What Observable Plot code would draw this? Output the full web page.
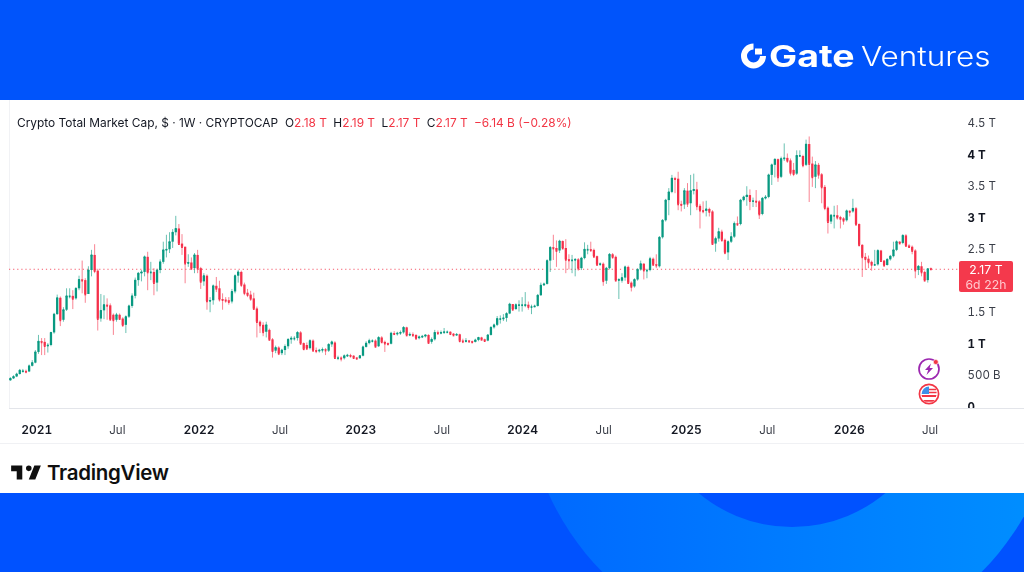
<!DOCTYPE html>
<html><head><meta charset="utf-8">
<script src="https://cdn.jsdelivr.net/npm/d3@7"></script>
<script src="https://cdn.jsdelivr.net/npm/@observablehq/plot@0.6"></script>
<style>
html,body{margin:0;padding:0;width:1024px;height:572px;overflow:hidden;background:#fff;font-family:Inter,"Noto Sans",sans-serif;color:#131722}
#top{position:absolute;left:0;top:0;width:1024px;height:100px;background:#0054fb}
#bottom{position:absolute;left:0;top:493px;width:1024px;height:79px}
#chart{position:absolute;left:0;top:100px;width:1024px;height:344px;border-bottom:1px solid #f0f1f4;box-sizing:border-box;filter:blur(.3px)}
.abs{position:absolute;white-space:nowrap}
#legend{left:17px;top:115px;font-size:11.9px;line-height:16px;filter:blur(.25px)}
#legend .r{color:#f23645}
#legend .f{margin-left:7px}
#legend .g{margin-left:3px}
#price{left:959px;top:261px;width:54px;height:31px;background:#f4394c;border-radius:2px;text-align:center;color:#fff;font-size:12.2px;line-height:15px;padding-top:1px;box-sizing:border-box;letter-spacing:.1px;filter:blur(.2px)}
#price .t{color:#ffc9cf}
</style></head><body>
<div id="top"></div>
<svg id="bottom" viewBox="0 493 1024 79">
<defs><linearGradient id="g" x1="0" x2="1"><stop offset="0" stop-color="#0068ff"/><stop offset="1" stop-color="#0090ff"/></linearGradient></defs>
<rect x="0" y="493" width="1024" height="79" fill="#0052ff"/>
<circle cx="792" cy="384" r="267" fill="url(#g)"/>
<circle cx="792" cy="381.5" r="145.5" fill="#0052ff"/>
</svg>
<svg class="abs" style="left:738px;top:40px" width="32" height="32" viewBox="0 0 32 32">
<path d="M15.5 3.5A12.5 12.5 0 1 0 28 16H22A6.5 6.5 0 1 1 15.5 9.5Z" fill="#fff"/><rect x="17" y="8.5" width="7" height="6" fill="#fff"/>
</svg>
<div class="abs" style="left:769px;top:35px;font-size:30px;line-height:42px;font-weight:700;color:#fff;transform:scaleX(1.25);transform-origin:left center">Gate</div>
<div class="abs" style="left:861px;top:38px;font-size:27px;line-height:38px;font-weight:300;color:#fff;transform:scaleX(1.165);transform-origin:left center">Ventures</div>
<div id="chart"></div>
<div class="abs" id="legend">Crypto Total Market Cap, $ · 1W · CRYPTOCAP<span class="f">O</span><span class="r">2.18 T</span><span class="g"> H</span><span class="r">2.19 T</span><span class="g"> L</span><span class="r">2.17 T</span><span class="g"> C</span><span class="r">2.17 T</span><span class="g r"> −6.14 B (−0.28%)</span></div>
<div class="abs" id="price">2.17 T<br><span class="t">6d 22h</span></div>
<svg class="abs" style="left:917px;top:357px" width="24" height="49" viewBox="0 0 24 49">
<circle cx="12" cy="12" r="10" fill="none" stroke="#9c27b0" stroke-width="1.7"/>
<path d="M14 6.5 8 13h3.2L9.5 18 16 11h-3.3Z" fill="#9c27b0"/>
<circle cx="18.8" cy="5" r="2.5" fill="#f23645" stroke="#fff" stroke-width=".6"/>
<circle cx="12" cy="37" r="9.6" fill="#fff" stroke="#f23645" stroke-width="1.7"/>
<path d="M4.5 38h15l-.6 2H5.1Z M6 43h12l-2.4 1.7H8.4Z" fill="#f23645"/>
<path d="M12 30.5V37H4.6A7.6 7.6 0 0 1 12 29.5Z" fill="#3d8fe8"/>
<path d="M12 32.5h7M12 35.5h7.6" stroke="#f23645" stroke-width="1.3"/>
</svg>
<svg class="abs" style="left:9px;top:460px" width="34" height="26" viewBox="0 0 36 28"><path d="M14 6H2v6h6v9h6V6Zm14 15h-7l6-15h7l-6 15Zm-7-9a3 3 0 1 0 0-6 3 3 0 0 0 0 6Z" fill="#0f0f0f"/></svg>
<div class="abs" style="left:47px;top:459px;font-size:20.5px;line-height:28px;font-weight:600;color:#0f0f0f;letter-spacing:-.3px">TradingView</div>
<script>
const firstWeek = "2020-11-09";
const opens = [
.40,.43,.46,.50,.54,.55,.54,.63,.68,.85,
1.02,1.01,.95,.96,1.16,1.45,1.71,1.36,1.52,1.74,
1.74,1.70,1.86,2.00,1.99,1.77,2.15,2.39,2.14,1.38,
1.51,1.60,1.59,1.44,1.36,1.44,1.38,1.28,1.41,1.58,
1.74,1.99,2.10,2.12,2.36,2.12,2.12,1.95,2.15,2.28,
2.47,2.48,2.60,2.75,2.81,2.57,2.52,2.26,2.27,2.18,
2.39,2.18,1.97,2.06,1.66,1.67,1.90,1.86,1.69,1.68,
1.67,1.65,1.81,2.06,2.12,1.92,1.79,1.76,1.70,1.54,
1.33,1.28,1.17,1.20,1.05,.87,.92,.83,.88,.94,
1.05,1.07,1.07,1.16,.99,.96,.91,1.03,.88,.87,
.88,.89,.87,.97,1.00,.76,.76,.75,.79,.80,
.79,.76,.75,.79,.93,.99,1.03,1.03,.94,1.08,
1.01,.99,.98,1.15,1.14,1.15,1.16,1.24,1.12,1.13,
1.12,1.07,1.09,1.10,1.12,1.01,1.05,1.16,1.15,1.16,
1.17,1.17,1.14,1.12,1.13,1.03,1.02,1.03,1.02,1.01,
1.04,1.08,1.05,1.03,1.12,1.24,1.28,1.38,1.38,1.39,
1.46,
1.61,1.53,1.60,1.60,1.59,1.60,1.57,1.57,1.58,1.75,
1.91,1.93,2.30,2.51,2.50,2.46,2.61,2.50,2.32,2.31,
2.31,2.32,2.18,2.34,2.48,2.48,2.47,2.37,2.24,2.25,
1.98,2.18,2.40,2.36,1.99,1.98,2.03,2.20,1.95,1.89,
2.00,2.16,2.25,2.15,2.15,2.33,2.24,2.21,2.67,2.94,
3.26,3.39,3.61,3.60,3.20,3.19,3.41,3.21,3.41,3.43,
3.17,3.10,3.09,3.12,3.08,2.57,2.65,2.76,2.63,2.43,
2.60,2.68,2.89,2.88,
3.26,3.31,3.34,3.25,3.25,3.24,3.04,3.29,3.31,3.66,
3.82,3.91,3.63,3.92,3.93,3.89,3.74,3.68,3.97,3.96,
3.82,4.15,3.84,3.63,3.82,3.67,3.47,3.14,2.92,3.02,
3.02,2.99,2.97,2.94,3.09,3.08,3.13,2.88,2.55,2.36,
2.33,2.28,2.24,2.24,2.46,2.30,2.23,2.32,2.37,2.47,
2.60,2.58,2.70,2.54,2.52,2.46,2.15,2.21,2.12,1.99,
2.18];
const highs = [
.45,.48,.52,.58,.58,.57,.65,.72,.88,1.12,
1.07,1.07,.99,1.17,1.47,1.76,1.73,1.56,1.86,1.86,
1.83,1.88,2.06,2.30,2.02,2.21,2.47,2.56,2.17,1.77,
1.75,1.70,1.62,1.46,1.47,1.46,1.40,1.43,1.60,1.78,
2.03,2.12,2.15,2.38,2.44,2.28,2.18,2.17,2.32,2.60,
2.71,2.75,2.80,3.01,2.88,2.72,2.52,2.40,2.35,2.42,
2.47,2.20,2.10,2.08,1.72,1.92,2.04,1.98,1.78,1.72,
1.72,1.85,2.08,2.15,2.14,1.95,1.85,1.82,1.79,1.57,
1.35,1.32,1.33,1.22,1.07,.95,.94,.90,.97,1.07,
1.10,1.10,1.18,1.18,1.00,1.00,1.05,1.05,.92,.90,
.92,.91,.99,1.03,1.02,.79,.78,.81,.82,.82,
.80,.77,.80,.95,1.02,1.06,1.05,1.05,1.10,1.10,
1.03,1.00,1.17,1.18,1.17,1.19,1.26,1.25,1.16,1.16,
1.13,1.11,1.12,1.13,1.13,1.08,1.20,1.19,1.19,1.23,
1.19,1.18,1.15,1.15,1.14,1.06,1.07,1.04,1.03,1.06,
1.09,1.09,1.06,1.13,1.26,1.30,1.42,1.43,1.45,1.48,
1.63,
1.60,1.62,1.67,1.72,1.80,1.65,1.60,1.60,1.77,1.95,
1.95,2.32,2.53,2.71,2.62,2.63,2.62,2.64,2.40,2.39,
2.34,2.34,2.36,2.59,2.55,2.60,2.49,2.38,2.27,2.27,
2.20,2.42,2.42,2.38,2.02,2.10,2.22,2.22,1.97,2.02,
2.18,2.30,2.26,2.17,2.36,2.35,2.40,2.69,2.96,3.28,
3.45,3.66,3.63,3.71,3.25,3.45,3.53,3.66,3.68,3.55,
3.20,3.24,3.25,3.14,3.10,2.68,2.82,2.79,2.65,2.62,
2.75,2.92,3.00,3.28,
3.33,3.48,3.43,3.30,3.42,3.26,3.31,3.34,3.68,3.84,
3.92,3.92,3.95,4.16,4.00,3.92,3.85,4.05,4.05,3.98,
4.22,4.27,3.95,3.88,3.85,3.69,3.50,3.16,3.04,3.17,
3.18,3.01,2.99,3.11,3.10,3.28,3.15,2.89,2.56,2.42,
2.38,2.30,2.47,2.48,2.47,2.31,2.34,2.39,2.60,2.62,
2.61,2.72,2.72,2.56,2.54,2.48,2.23,2.28,2.14,2.18,
2.19];
const lows = [
.39,.42,.45,.49,.53,.51,.53,.62,.67,.82,
.80,.80,.84,.94,1.14,1.44,1.26,1.33,1.50,1.70,
1.53,1.68,1.83,1.78,1.63,1.77,2.05,2.10,1.19,1.33,
1.37,1.36,1.35,1.12,1.33,1.36,1.25,1.15,1.39,1.55,
1.70,1.90,1.97,2.05,1.83,1.99,1.75,1.81,2.10,2.25,
2.35,2.42,2.50,2.70,2.55,2.39,1.94,2.20,2.15,2.10,
2.10,1.85,1.90,1.52,1.48,1.60,1.80,1.65,1.52,1.63,
1.60,1.62,1.78,1.95,1.88,1.75,1.72,1.66,1.52,1.08,
1.15,1.10,1.08,1.03,.76,.83,.80,.80,.80,.90,
.98,1.03,1.03,.96,.88,.88,.89,.85,.83,.84,
.84,.80,.85,.93,.74,.72,.70,.73,.77,.76,
.74,.73,.74,.78,.92,.97,1.00,.92,.93,1.00,
.85,.96,.97,1.12,1.11,1.12,1.14,1.10,1.10,1.09,
1.05,1.05,1.07,1.08,.98,.98,1.03,1.13,1.13,1.14,
1.15,1.12,1.10,1.11,1.00,.99,1.00,1.00,.99,1.00,
1.02,1.04,1.02,1.02,1.11,1.22,1.26,1.30,1.34,1.33,
1.45,
1.50,1.52,1.49,1.49,1.56,1.52,1.45,1.56,1.57,1.74,
1.90,1.92,2.12,2.31,2.20,2.42,2.48,2.10,2.16,2.10,
2.05,2.14,2.15,2.32,2.40,2.44,2.34,2.22,2.22,1.90,
1.93,2.16,2.33,1.97,1.69,1.95,1.98,1.93,1.81,1.87,
1.98,2.14,2.00,2.02,2.13,2.22,2.18,2.19,2.65,2.92,
3.02,3.37,3.37,3.10,3.08,3.12,3.15,3.02,3.35,3.10,
2.81,3.05,3.00,3.00,2.55,2.44,2.60,2.60,2.40,2.31,
2.58,2.66,2.85,2.86,
3.24,3.17,3.10,3.15,3.15,2.96,3.02,3.27,3.29,3.50,
3.62,3.55,3.61,3.88,3.85,3.65,3.64,3.66,3.95,3.78,
3.80,3.23,3.47,3.45,3.60,3.21,3.10,2.73,2.88,2.81,
2.95,2.81,2.87,2.92,3.00,3.06,2.86,2.53,2.04,2.15,
2.18,2.14,2.22,2.22,2.28,2.21,2.22,2.30,2.35,2.45,
2.56,2.56,2.52,2.50,2.40,2.02,2.07,2.05,1.97,1.95,
2.17];
const closes = [
.43,.46,.50,.56,.55,.54,.63,.68,.85,1.02,
1.01,.95,.96,1.16,1.45,1.71,1.36,1.52,1.74,1.74,
1.70,1.86,2.00,1.99,1.77,2.15,2.39,2.14,1.38,1.51,
1.60,1.59,1.37,1.36,1.44,1.38,1.28,1.41,1.58,1.74,
1.99,2.10,2.12,2.36,2.12,2.12,1.95,2.15,2.28,2.47,
2.48,2.60,2.75,2.81,2.57,2.52,2.26,2.27,2.18,2.39,
2.18,1.97,2.06,1.66,1.67,1.90,1.86,1.69,1.68,1.67,
1.65,1.81,2.06,2.12,1.92,1.79,1.76,1.70,1.54,1.33,
1.28,1.17,1.28,1.05,.87,.92,.83,.88,.94,1.05,
1.07,1.07,1.16,.99,.90,.91,1.03,.88,.87,.88,
.89,.88,.97,1.01,.76,.76,.75,.79,.80,.79,
.76,.75,.79,.93,.99,1.03,1.03,.94,1.08,1.01,
.99,.98,1.15,1.14,1.15,1.16,1.24,1.12,1.13,1.12,
1.07,1.09,1.10,1.12,1.00,1.05,1.16,1.15,1.16,1.17,
1.17,1.14,1.12,1.13,1.03,1.02,1.03,1.02,1.01,1.04,
1.08,1.05,1.03,1.12,1.24,1.28,1.38,1.38,1.39,1.46,
1.61,
1.53,1.60,1.60,1.60,1.60,1.57,1.57,1.58,1.75,1.91,
1.93,2.30,2.51,2.50,2.46,2.61,2.50,2.32,2.31,2.31,
2.32,2.18,2.34,2.48,2.48,2.47,2.37,2.24,2.25,1.98,
2.18,2.40,2.36,1.99,2.00,2.03,2.20,1.95,1.89,2.00,
2.16,2.25,2.15,2.15,2.33,2.24,2.23,2.67,2.94,3.26,
3.39,3.61,3.60,3.20,3.19,3.41,3.21,3.41,3.43,3.17,
3.10,3.09,3.12,3.08,2.57,2.65,2.76,2.63,2.43,2.60,
2.68,2.89,2.88,3.26,
3.31,3.34,3.25,3.25,3.24,3.04,3.29,3.31,3.66,3.82,
3.91,3.63,3.92,3.93,3.89,3.70,3.68,3.97,3.97,3.82,
4.15,3.84,3.63,3.82,3.67,3.47,3.14,2.92,3.02,3.02,
2.99,2.97,2.94,3.09,3.08,3.13,2.88,2.55,2.36,2.33,
2.28,2.24,2.24,2.46,2.30,2.23,2.32,2.37,2.47,2.60,
2.58,2.70,2.54,2.52,2.46,2.15,2.21,2.12,1.99,2.17,
2.17];
const yearDates = ["2021-01-07","2022-01-06","2023-01-04","2024-01-02","2025-01-03","2026-01-04"].map(d=>new Date(d));
const yearLabels = ["2021","2022","2023","2024","2025","2026"];
const julDates = ["2021-07-07","2022-07-07","2023-07-05","2024-07-02","2025-07-04","2026-07-04"].map(d=>new Date(d));
const boldTicks = [0,1,3,4];
const boldLabels = ["0","1 T","3 T","4 T"];
const plainTicks = [0.5,1.5,2.5,3.5,4.5];
const plainLabels = ["500 B","1.5 T","2.5 T","3.5 T","4.5 T"];
const lastPrice = 2.17;
const UP = "#089981", DOWN = "#f5304a";
const xDomain = [new Date("2020-11-07"), new Date("2027-02-01")];
const priceLineEnd = new Date("2026-09-06");
const n = Math.min(opens.length,highs.length,lows.length,closes.length);
const candles = d3.range(n).map(i=>({
  date:d3.utcWeek.offset(new Date(firstWeek),i), open:opens[i], high:highs[i], low:lows[i], close:closes[i]
}));
const col = d=>d.close>=d.open?UP:DOWN;
const plot = Plot.plot({
  width:1024,height:343,marginLeft:9,marginRight:0,marginTop:0,marginBottom:35,
  style:{background:"transparent",fontFamily:"Inter,'Noto Sans',sans-serif",overflow:"visible"},
  x:{type:"utc",domain:xDomain,axis:null},
  y:{domain:[-0.04,4.849],axis:null},
  marks:[
    Plot.ruleY([-0.04],{stroke:"#e3e5ea"}),
    Plot.ruleX([xDomain[0]],{stroke:"#f1f2f5"}),
    Plot.ruleY([lastPrice],{x1:xDomain[0],x2:priceLineEnd,stroke:"#f4485c",strokeOpacity:.9,strokeDasharray:"1.2,2.9"}),
    Plot.ruleX(candles,{x:"date",y1:"low",y2:"high",stroke:col,strokeWidth:1,strokeOpacity:.6}),
    Plot.ruleX(candles,{x:"date",y1:"open",y2:"close",stroke:col,strokeWidth:2.3}),
    Plot.dot(candles,{x:"date",y:"close",symbol:"square",r:1,fill:col}),
    Plot.axisY(plainTicks,{anchor:"right",label:null,tickSize:0,tickPadding:0,dx:-57,dy:1,textAnchor:"start",clip:"frame",fontSize:11.5,fill:"#3a3e48",tickFormat:d=>plainLabels[plainTicks.indexOf(d)]}),
    Plot.axisY(boldTicks,{anchor:"right",label:null,tickSize:0,tickPadding:0,dx:-57,dy:1,textAnchor:"start",clip:"frame",fontSize:11.5,fontWeight:700,fill:"#131722",tickFormat:d=>boldLabels[boldTicks.indexOf(d)]}),
    Plot.axisX(yearDates,{anchor:"bottom",label:null,tickSize:0,tickPadding:17,fontSize:12,fontWeight:600,fill:"#131722",tickFormat:d=>yearLabels[yearDates.findIndex(e=>+e===+d)]}),
    Plot.axisX(julDates,{anchor:"bottom",label:null,tickSize:0,tickPadding:17,fontSize:11.5,fill:"#3a3e48",tickFormat:()=>"Jul"})
  ]
});
document.getElementById("chart").appendChild(plot);
</script>
</body></html>
